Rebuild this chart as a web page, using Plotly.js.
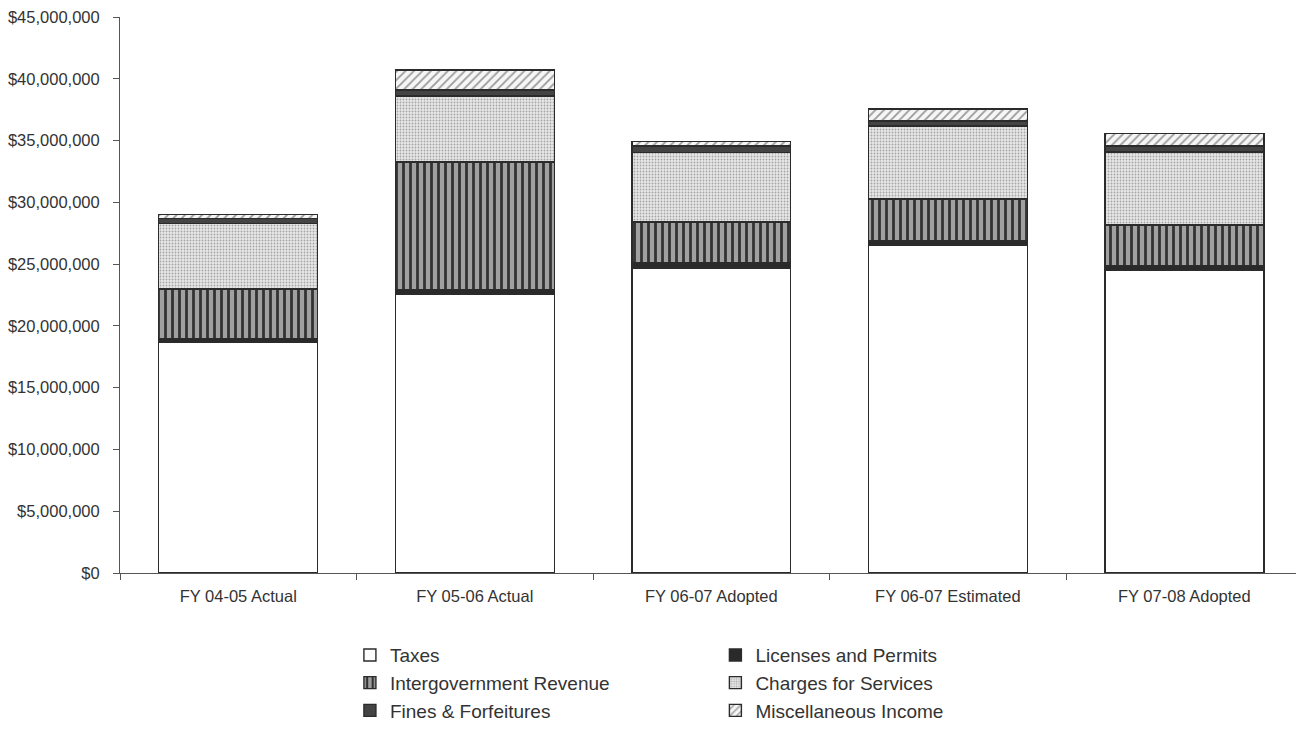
<!DOCTYPE html>
<html>
<head>
<meta charset="utf-8">
<script src="https://cdn.plot.ly/plotly-3.0.1.min.js"></script>
<style>html,body{margin:0;padding:0;background:#fff;}#chart{width:1296px;height:732px;}</style>
</head>
<body>
<div id="chart"></div>
<script>
const categories = ["FY 04-05 Actual", "FY 05-06 Actual", "FY 06-07 Adopted", "FY 06-07 Estimated", "FY 07-08 Adopted"];
const taxes      = [18650000, 22580000, 24680000, 26550000, 24520000];
const licenses   = [320000, 320000, 400000, 330000, 350000];
const intergov   = [4000000, 10370000, 3320000, 3400000, 3300000];
const charges    = [5340000, 5340000, 5650000, 5900000, 5900000];
const fines      = [400000, 490000, 500000, 400000, 500000];
const misc       = [300000, 1620000, 380000, 970000, 1000000];

const lineStyle = {color: "#2b2b2b", width: 1.4};
function tr(name, y, marker, legend) {
  marker.line = lineStyle;
  return {type: "bar", name: name, x: categories, y: y, marker: marker, legend: legend, hoverinfo: "skip"};
}
const data = [
  tr("Taxes", taxes, {color: "#ffffff"}, "legend"),
  tr("Licenses and Permits", licenses, {color: "#2a2a2a"}, "legend2"),
  tr("Intergovernment Revenue", intergov, {color: "#9c9c9c", pattern: {shape: "|", bgcolor: "#a0a0a0", fgcolor: "#333333", size: 7, solidity: 0.4}}, "legend"),
  tr("Charges for Services", charges, {color: "#dcdcdc", pattern: {shape: ".", bgcolor: "#e8e8e8", fgcolor: "#a5a5a5", size: 3, solidity: 0.3}}, "legend2"),
  tr("Fines & Forfeitures", fines, {color: "#444444"}, "legend"),
  tr("Miscellaneous Income", misc, {color: "#f4f4f4", pattern: {shape: "/", bgcolor: "#f6f6f6", fgcolor: "#9a9a9a", size: 6, solidity: 0.3}}, "legend2")
];

const tickFont = {family: "Liberation Sans, Arial, sans-serif", size: 16.5, color: "#333"};
const legFont = {family: "Liberation Sans, Arial, sans-serif", size: 19, color: "#333"};
const layout = {
  width: 1296, height: 732,
  paper_bgcolor: "#ffffff", plot_bgcolor: "#ffffff",
  margin: {l: 120, r: 0, t: 17, b: 159, autoexpand: false},
  barmode: "stack",
  bargap: 0.328,
  showlegend: true,
  xaxis: {
    type: "category", range: [-0.5, 4.472],
    showline: true, linecolor: "#555", linewidth: 1,
    ticks: "outside", tickson: "boundaries", ticklen: 6, tickcolor: "#555",
    tickfont: tickFont, ticklabelstandoff: 8, tickangle: 0, automargin: false,
    showgrid: false, zeroline: false, fixedrange: true
  },
  yaxis: {
    range: [0, 45000000], dtick: 5000000, tick0: 0,
    tickprefix: "$", tickformat: ",d",
    showline: true, linecolor: "#555", linewidth: 1,
    ticks: "outside", ticklen: 6, tickcolor: "#555",
    tickfont: tickFont, ticklabelstandoff: 10, automargin: false,
    showgrid: false, zeroline: false, fixedrange: true
  },
  legend: {
    xref: "container", yref: "container", x: 0.27, y: 0.131, xanchor: "left", yanchor: "top",
    orientation: "v", traceorder: "normal", font: legFont, bgcolor: "rgba(0,0,0,0)",
    itemclick: false, tracegroupgap: 0
  },
  legend2: {
    xref: "container", yref: "container", x: 0.552, y: 0.131, xanchor: "left", yanchor: "top",
    orientation: "v", traceorder: "normal", font: legFont, bgcolor: "rgba(0,0,0,0)",
    itemclick: false, tracegroupgap: 0
  }
};
Plotly.newPlot("chart", data, layout, {staticPlot: true, displayModeBar: false});
</script>
</body>
</html>
